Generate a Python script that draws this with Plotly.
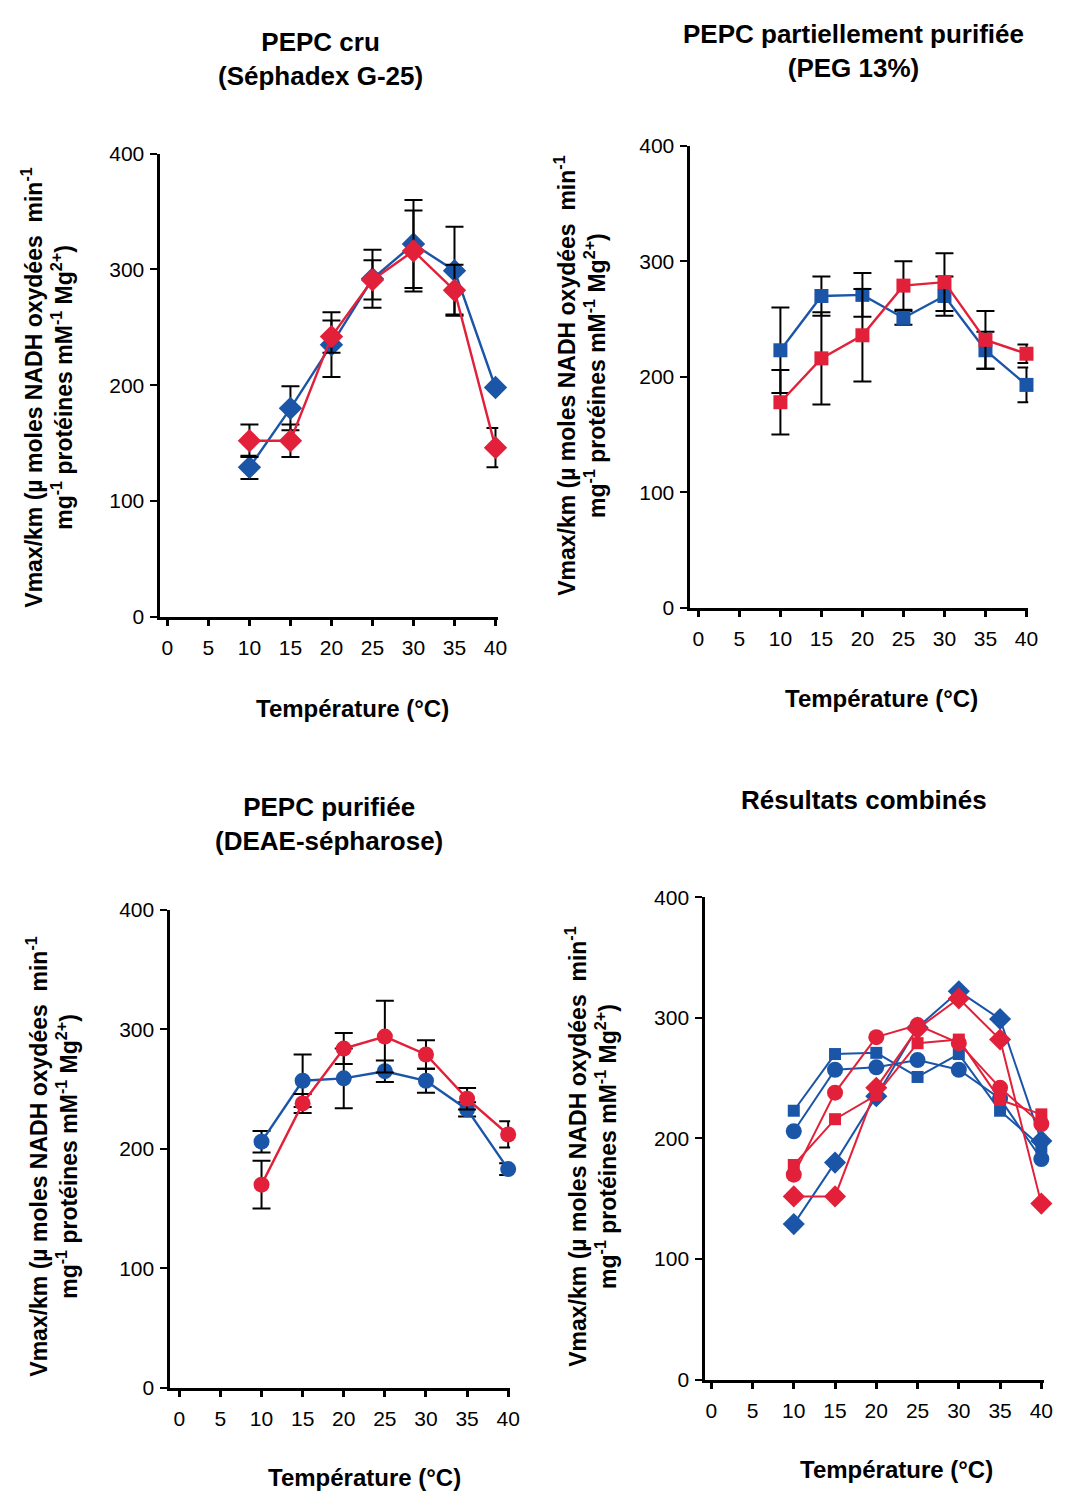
import plotly.graph_objects as go

W, H = 1065, 1502
temps = [10, 15, 20, 25, 30, 35, 40]

# Panel 1: PEPC cru (Séphadex G-25) - diamonds
cru_blue = [129, 180, 235, 292, 322, 299, 198]
cru_blue_err = [10, 19, 28, 25, 38, 38, 0]
cru_red = [152, 152, 242, 291, 316, 282, 146]
cru_red_err = [14, 14, 14, 17, 35, 22, 17]

# Panel 2: PEPC partiellement purifiée (PEG 13%) - squares
peg_blue = [223, 270, 271, 251, 270, 223, 193]
peg_blue_err = [37, 17, 19, 6, 17, 16, 15]
peg_red = [178, 216, 236, 279, 282, 232, 220]
peg_red_err = [28, 40, 40, 21, 25, 25, 8]

# Panel 3: PEPC purifiée (DEAE-sépharose) - circles
deae_blue = [206, 257, 259, 265, 257, 233, 183]
deae_blue_err = [9, 22, 25, 9, 10, 6, 5]
deae_red = [170, 238, 284, 294, 279, 242, 212]
deae_red_err = [20, 8, 13, 30, 12, 9, 11]

yticks = [0, 100, 200, 300, 400]
xticks = [0, 5, 10, 15, 20, 25, 30, 35, 40]

BLUE = "#1a55a8"
RED = "#e2203a"
FONT = "Liberation Sans, Arial, sans-serif"

titles = ["<b>PEPC cru<br>(Séphadex G-25)</b>",
          "<b>PEPC partiellement purifiée<br>(PEG 13%)</b>",
          "<b>PEPC purifiée<br>(DEAE-sépharose)</b>",
          "<b>Résultats combinés</b>"]

# pixel geometry: (y-axis x px, x-axis end px, x of value 0, px per unit, y px of 0, y px of 400)
geo = [
    (162, 503, 169, 8.28, 614, 145),
    (697, 1038, 705, 8.28, 605, 137),
    (172, 515, 181, 8.30, 1397, 913),
    (712, 1054, 718, 8.33, 1389, 900),
]
title_pos = [(324, 48), (862, 40), (332, 825), (872, 800)]
xtitle_pos = [(356, 707), (890, 697), (368, 1488), (905, 1480)]
ytitle_pos = [(48, 382), (586, 369), (53, 1163), (597, 1152)]

fig = go.Figure()

def add_series(i, y, err, color, symbol, size, show_err=True, lw=2.4):
    ax = "" if i == 0 else str(i + 1)
    kw = {}
    if show_err:
        kw["error_y"] = dict(type="data", array=err, visible=True, color="black",
                             thickness=2, width=9)
    fig.add_trace(go.Scatter(
        x=temps, y=y, mode="lines+markers", cliponaxis=False,
        line=dict(color=color, width=lw),
        marker=dict(symbol=symbol, size=size, color=color),
        xaxis="x" + ax, yaxis="y" + ax, showlegend=False, **kw))

add_series(0, cru_blue, cru_blue_err, BLUE, "diamond", 18)
add_series(0, cru_red, cru_red_err, RED, "diamond", 18)
add_series(1, peg_blue, peg_blue_err, BLUE, "square", 14)
add_series(1, peg_red, peg_red_err, RED, "square", 14)
add_series(2, deae_blue, deae_blue_err, BLUE, "circle", 16)
add_series(2, deae_red, deae_red_err, RED, "circle", 16)
# combined
add_series(3, peg_blue, None, BLUE, "square", 12, False, 2)
add_series(3, deae_blue, None, BLUE, "circle", 16, False, 2)
add_series(3, cru_blue, None, BLUE, "diamond", 17, False, 2)
add_series(3, peg_red, None, RED, "square", 12, False, 2)
add_series(3, deae_red, None, RED, "circle", 16, False, 2)
add_series(3, cru_red, None, RED, "diamond", 17, False, 2)

layout = dict(
    width=W, height=H, margin=dict(l=0, r=0, t=0, b=0),
    paper_bgcolor="white", plot_bgcolor="white",
    font=dict(family=FONT, color="black"),
)

ann = []
for i, (yax, xend, x0, ppu, py0, py400) in enumerate(geo):
    ax = "" if i == 0 else str(i + 1)
    rmin = (yax - x0) / ppu
    rmax = (xend - x0) / ppu
    layout["xaxis" + ax] = dict(
        domain=[yax / W, xend / W], range=[rmin, rmax],
        anchor="y" + ax, tickvals=xticks, ticktext=[str(t) for t in xticks],
        ticks="outside", ticklen=6, tickwidth=2.5, tickcolor="black",
        showline=True, linecolor="black", linewidth=3,
        showgrid=False, zeroline=False, tickfont=dict(size=21, family=FONT),
        ticklabelstandoff=4,
    )
    layout["yaxis" + ax] = dict(
        domain=[(H - py0) / H, (H - py400 + 1) / H], range=[0, 400],
        anchor="x" + ax, tickvals=yticks,
        ticks="outside", ticklen=7, tickwidth=2, tickcolor="black",
        showline=True, linecolor="black", linewidth=3,
        showgrid=False, zeroline=False, tickfont=dict(size=21, family=FONT),
        ticklabelstandoff=2,
    )
    tx, ty = title_pos[i]
    ann.append(dict(x=tx / W, y=1 - ty / H, xref="paper", yref="paper",
                    text=titles[i], showarrow=False, font=dict(size=26),
                    xanchor="center", yanchor="middle"))
    xx, xy = xtitle_pos[i]
    ann.append(dict(x=xx / W, y=1 - xy / H, xref="paper", yref="paper",
                    text="<b>Température (°C)</b>", showarrow=False,
                    font=dict(size=24), xanchor="center", yanchor="middle"))
    yx, yy = ytitle_pos[i]
    ann.append(dict(x=yx / W, y=1 - yy / H,
                    xref="paper", yref="paper", textangle=-90,
                    text="<b>Vmax/km (µ moles NADH oxydées  min<sup>-1</sup><br>"
                         "mg<sup>-1</sup> protéines mM<sup>-1</sup> Mg<sup>2+</sup>)</b>",
                    showarrow=False, font=dict(size=23),
                    xanchor="center", yanchor="middle"))

layout["annotations"] = ann
fig.update_layout(**layout)
fig.write_html("out.html",
               post_script="document.body.style.margin='0';document.body.style.overflow='hidden';")
